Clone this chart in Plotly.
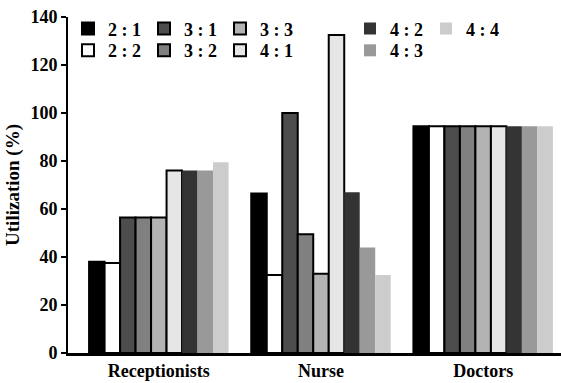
import plotly.graph_objects as go

categories = ["Receptionists", "Nurse", "Doctors"]
ratios = ["2 : 1", "2 : 2", "3 : 1", "3 : 2", "3 : 3", "4 : 1", "4 : 2", "4 : 3", "4 : 4"]

receptionists = [38, 37.5, 56.5, 56.5, 56.5, 76, 76, 76, 79.5]
nurse = [66.5, 32.5, 100, 49.5, 33, 132.5, 67, 44, 32.5]
doctors = [94.5, 94.5, 94.5, 94.5, 94.5, 94.5, 94.5, 94.5, 94.5]

fills = ["#000000", "#ffffff", "#4d4d4d", "#808080", "#b3b3b3", "#e6e6e6",
         "#333333", "#999999", "#cccccc"]
outlined = [True, True, True, True, True, True, False, False, False]

# legend blocks: left block (2:x, 3:x, 4:1) and right block (4:2 .. 4:4), two rows each
legend_of = ["legend", "legend2", "legend", "legend2", "legend", "legend2",
             "legend3", "legend4", "legend3"]

FONT = "Liberation Serif"

fig = go.Figure()
for i, name in enumerate(ratios):
    vals = [receptionists[i], nurse[i], doctors[i]]
    fig.add_trace(go.Bar(
        x=categories, y=vals, name=name,
        marker=dict(color=fills[i],
                    line=dict(color="#000000" if outlined[i] else fills[i],
                              width=2 if outlined[i] else 0)),
        legend=legend_of[i],
    ))

legend_style = dict(orientation="h", xanchor="left", yanchor="top",
                    bgcolor="rgba(0,0,0,0)", entrywidth=31, entrywidthmode="pixels",
                    font=dict(family=FONT, size=18, color="#000", weight="bold"),
                    itemwidth=30, tracegroupgap=0)

row1_y, row2_y = 1.02, 0.955
left_x, right_x = 0.0, 0.572

fig.update_layout(
    width=561, height=383,
    margin=dict(l=68, r=0, t=17, b=30),
    paper_bgcolor="white", plot_bgcolor="white",
    barmode="group", bargap=0.14, bargroupgap=0,
    showlegend=True,
    legend=dict(x=left_x, y=row1_y, **legend_style),
    legend2=dict(x=left_x, y=row2_y, **legend_style),
    legend3=dict(x=right_x, y=row1_y, **legend_style),
    legend4=dict(x=right_x, y=row2_y, **legend_style),
    font=dict(family=FONT, color="#000"),
    xaxis=dict(range=[-0.56, 2.48], showline=True, linecolor="#000", linewidth=2.5,
               ticks="", tickfont=dict(family=FONT, size=18, weight="bold"),
               showgrid=False, zeroline=False),
    yaxis=dict(range=[0, 140], dtick=20, showline=True, linecolor="#000", linewidth=2,
               ticks="outside", ticklen=5, tickwidth=2, tickcolor="#000",
               tickfont=dict(family=FONT, size=18, weight="bold"),
               showgrid=False, zeroline=False,
               title=dict(text="Utilization (%)", standoff=6,
                          font=dict(family=FONT, size=19, weight="bold"))),
)

fig.write_html("out.html")
